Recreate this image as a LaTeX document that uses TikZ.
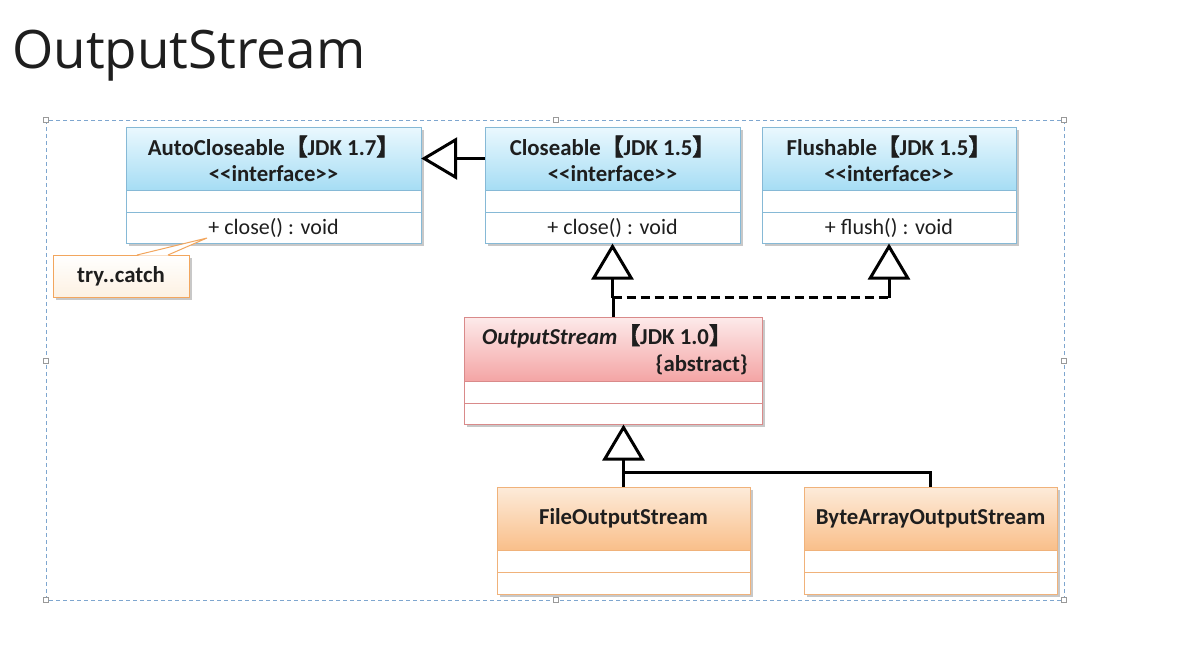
\documentclass[tikz,border=0pt]{standalone}
\usepackage{fontspec}
\setmainfont{Carlito}
\newfontfamily\cjk{Noto Sans CJK SC}[FakeBold=2.5]
\newfontfamily\titlefont{Open Sans}
\usetikzlibrary{arrows.meta,calc}
\definecolor{bluetop}{HTML}{EAF8FE}
\definecolor{bluebot}{HTML}{A6DDF4}
\definecolor{blueline}{HTML}{86B9D6}
\definecolor{redtop}{HTML}{FDEAEA}
\definecolor{redbot}{HTML}{F4A5A5}
\definecolor{redline}{HTML}{D98A8A}
\definecolor{orgtop}{HTML}{FDEBDA}
\definecolor{orgbot}{HTML}{F9BF8A}
\definecolor{orgline}{HTML}{F0B27A}
\definecolor{noteline}{HTML}{F2A65E}
\definecolor{notetop}{HTML}{FFFFFF}
\definecolor{notebot}{HTML}{FDF1E2}
\definecolor{selc}{HTML}{7EA6CF}
\definecolor{shadowc}{HTML}{C8C8C8}
\definecolor{txt}{HTML}{1E1E1E}
\newcommand\LB{{\cjk 【}}
\newcommand\RB{{\cjk 】}}
\newcommand\iface{<{}<interface>{}>}
\newcommand\hdrfont{\fontsize{22.8}{26}\selectfont\bfseries}
\tikzset{
  boxtext/.style={inner sep=0pt, text=txt, font=\fontsize{22}{26}\selectfont},
  solidline/.style={line width=3pt, black},
  dashline/.style={line width=3pt, black, dash pattern=on 9pt off 5pt},
  gen/.style={line width=3pt, black, -{Triangle[open, length=36pt, width=42pt, line width=3pt]}},
  selframe/.style={selc, line width=1pt, dash pattern=on 4pt off 3pt},
  handle/.style={fill=white, draw=gray!80, line width=0.8pt},
}
% #1 name #2 left #3 top #4 right #5 header bottom #6 divider #7 bottom #8 palette #9 header text
\newcommand\umlclass[9]{%
  \fill[shadowc] ({#2+3},{#3+3}) rectangle ({#4+3},{#7+3});
  \fill[white] (#2,#3) rectangle (#4,#7);
  \shade[top color=#8top, bottom color=#8bot] (#2,#3) rectangle (#4,#5);
  \draw[#8line, line width=1pt] (#2,#5) -- (#4,#5) (#2,#6) -- (#4,#6);
  \node[draw=#8line, line width=1pt, inner sep=0pt, minimum width={(#4-#2)*1pt}, minimum height={(#7-#3)*1pt}] (#1) at ({(#2+#4)/2},{(#3+#7)/2}) {};
  \node[boxtext, align=center, font=\hdrfont, minimum width={(#4-#2)*1pt}, minimum height={(#5-#3)*1pt}] (#1H) at ({(#2+#4)/2},{(#3+#5)/2}) {#9};
}
\begin{document}
\begin{tikzpicture}[x=1pt, y=-1pt]
\useasboundingbox (0,0) rectangle (1178,670);
\fill[white] (0,0) rectangle (1178,670);
% title
\node[anchor=base west, inner sep=0pt, text=txt, font=\titlefont\fontsize{53}{60}\selectfont] (title) at (12,68) {OutputStream};
% selection frame
\draw[selframe] (46,120) rectangle (1064,600);
\foreach \x/\y in {46/120,556/120,1064/120,46/361,1064/361,46/600,556/600,1064/600}
  \draw[handle] ({\x-2.5},{\y-2.5}) rectangle ({\x+2.5},{\y+2.5});
% classes
\umlclass{auto}{126}{127}{421}{190}{212}{243}{blue}{AutoCloseable\LB JDK 1.7\RB\\\iface}
\umlclass{close}{485}{127}{740}{190}{212}{243}{blue}{Closeable\LB JDK 1.5\RB\\\iface}
\umlclass{flush}{762}{127}{1016}{190}{212}{243}{blue}{Flushable\LB JDK 1.5\RB\\\iface}
\umlclass{out}{464}{317}{762}{381}{403}{424}{red}{}
\umlclass{file}{497}{487}{750}{550}{572}{594}{org}{FileOutputStream}
\umlclass{byte}{804}{487}{1057}{550}{572}{594}{org}{ByteArrayOutputStream}
\node[boxtext, font=\hdrfont, anchor=base] (outT) at (607,344) {\textit{OutputStream}\LB JDK 1.0\RB};
\node[boxtext, font=\hdrfont, anchor=base east] (outA) at (748,371) {\{abstract\}};
% methods
\node[boxtext] (autoM) at (273.5,228) {+ close() : void};
\node[boxtext] (closeM) at (612.5,228) {+ close() : void};
\node[boxtext] (flushM) at (889,228) {+ flush() : void};
% note
\fill[shadowc] (56,258) rectangle (192,300);
\shade[top color=notetop, bottom color=notebot] (53,255) rectangle (189,297);
\node[draw=noteline, line width=1pt, inner sep=0pt, minimum width=136pt, minimum height=42pt, text=txt, font=\hdrfont] (note) at (121,276) {try..catch};
\coordinate (cp) at (207,238);
\fill[white] (137.5,255.7) -- (cp) -- (167.5,255.7) -- cycle;
\draw[noteline, line width=1pt] (137,255) -- (cp) -- (168,255);
% generalization AutoCloseable <- Closeable
\draw[gen] (closeH.west) -- (autoH.east);
% realization
\coordinate (j) at ($(close.south |- out.north)+(0,-19)$);
\draw[solidline] (out.north) -- (out.north |- j);
\draw[gen] (j) -- (close.south);
\draw[dashline] (j) -- (j -| flush.south);
\draw[gen] (j -| flush.south) -- (flush.south);
% inheritance
\coordinate (k) at ($(file.north)+(0,-14)$);
\draw[gen] (file.north) -- (file.north |- out.south);
\draw[solidline] (byte.north) |- (k);
\end{tikzpicture}
\end{document}
